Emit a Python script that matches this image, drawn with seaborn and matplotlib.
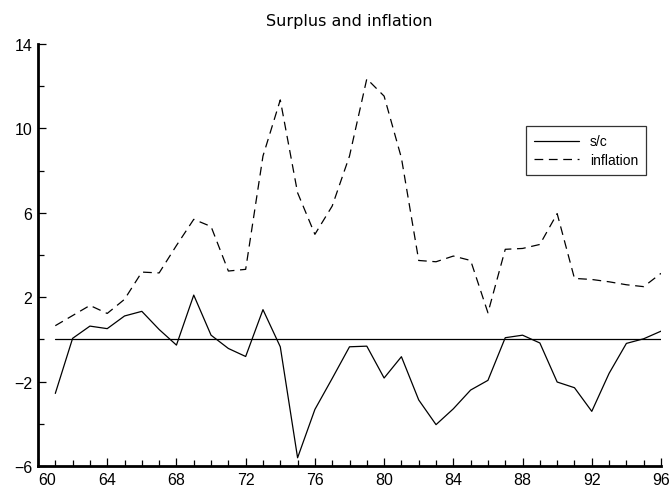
import numpy as np
import pandas as pd
import seaborn as sns
import matplotlib.pyplot as plt

years = list(range(1961, 1997))
surplus = [-2.56, 0.05, 0.63, 0.51, 1.11, 1.33, 0.47, -0.27, 2.10, 0.20,
           -0.43, -0.81, 1.41, -0.35, -5.61, -3.32, -1.85, -0.35, -0.32, -1.83,
           -0.82, -2.87, -4.04, -3.29, -2.40, -1.94, 0.08, 0.20, -0.17, -2.02,
           -2.29, -3.41, -1.61, -0.19, 0.03, 0.39]
inflation = [0.65, 1.13, 1.61, 1.23, 1.90, 3.19, 3.15, 4.45, 5.69, 5.35,
             3.24, 3.32, 8.69, 11.35, 6.95, 4.98, 6.32, 8.69, 12.35, 11.53,
             8.60, 3.74, 3.68, 3.95, 3.74, 1.26, 4.27, 4.31, 4.50, 5.96,
             2.89, 2.84, 2.73, 2.59, 2.50, 3.13]
xticks = [60, 64, 68, 72, 76, 80, 84, 88, 92, 96]
yticks = [14, 10, 6, 2, -2, -6]

df = pd.DataFrame({"year": [y - 1900 for y in years], "s/c": surplus, "inflation": inflation})

sns.set_style("ticks", {"text.color": "black", "xtick.color": "black",
                        "ytick.color": "black", "axes.edgecolor": "black"})
plt.rcParams['font.family'] = ['Liberation Sans', 'DejaVu Sans']

fig = plt.figure(figsize=(6.72, 4.89), dpi=100)
ax = fig.add_axes([38 / 672, 22 / 489, 623 / 672, 422 / 489])

sns.lineplot(data=df, x="year", y="s/c", ax=ax, color="black", lw=0.9, label="s/c")
sns.lineplot(data=df, x="year", y="inflation", ax=ax, color="black", lw=0.9,
             label="inflation").lines[-1].set_dashes([7, 4.5])
ax.plot(df["year"], np.zeros(len(df)), color="black", lw=0.9)

ax.set_xlim(60, 96)
ax.set_ylim(-6, 14)
ax.set_xticks(xticks)
ax.set_xticks(range(60, 97), minor=True)
ax.set_yticks(yticks)
ax.set_yticks(range(-6, 15, 2), minor=True)
ax.set_xticklabels([str(t) for t in xticks], fontsize=11.5)
ax.set_yticklabels([str(t).replace('-', '\u2212') for t in yticks], fontsize=11.5)
ax.get_xticklabels()[0].set_horizontalalignment('left')
ax.tick_params(which='major', direction='in', length=6, width=0.9, pad=4)
ax.tick_params(which='minor', direction='in', length=4, width=0.9)
ax.set_xlabel("")
ax.set_ylabel("")
sns.despine(ax=ax)
ax.spines['left'].set_linewidth(2)
ax.spines['bottom'].set_linewidth(2)

ax.set_title("Surplus and inflation", fontsize=11.5, pad=14, family='DejaVu Sans',
             color='black')
leg = ax.legend(loc='upper left', bbox_to_anchor=(0.772, 0.822), frameon=True,
                fancybox=False, fontsize=10, handlelength=3.2, borderpad=0.6,
                labelspacing=0.3)
leg.get_frame().set_edgecolor('black')
leg.get_frame().set_linewidth(0.9)
for t in leg.get_texts():
    t.set_color('black')

fig.savefig("out.png", dpi=100)
